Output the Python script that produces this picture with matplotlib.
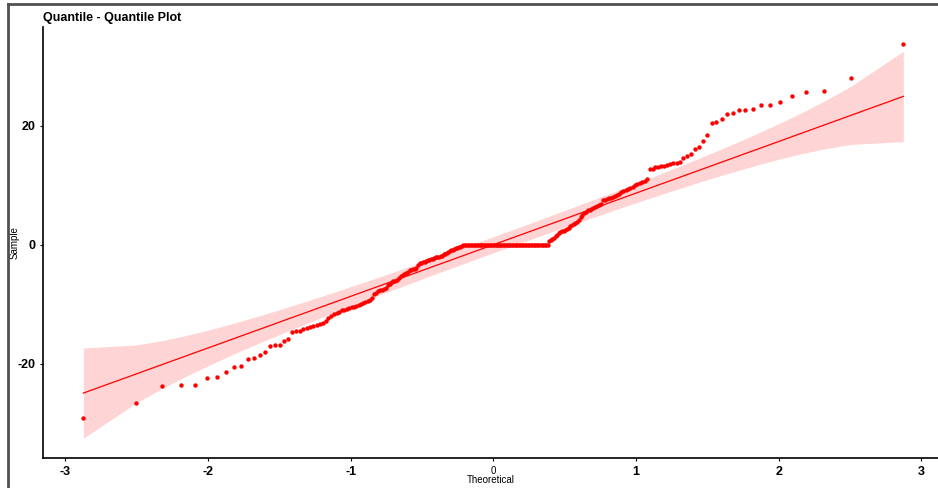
import matplotlib
matplotlib.use("Agg")
import matplotlib.pyplot as plt
from matplotlib.lines import Line2D
import numpy as np
from statistics import NormalDist

plt.rcParams['font.family'] = ['Liberation Sans', 'DejaVu Sans']

# sorted sample values
lower_tail = [-29.1, -26.6, -23.7, -23.6, -23.5, -22.3, -22.2, -21.4, -20.5, -20.3,
              -19.1, -19.0, -18.5, -18.0, -17.0, -16.8, -16.8, -16.2, -15.8, -14.7]
lower_body = [-14.5, -14.4, -14.2, -14.0, -13.8, -13.6, -13.5, -13.3, -13.2, -12.8,
              -12.2, -11.9, -11.6, -11.4, -11.2, -11.0, -10.9, -10.8, -10.6, -10.5,
              -10.4, -10.3, -10.1, -9.9, -9.8, -9.6, -9.5, -9.3, -9.0, -8.2,
              -8.0, -7.8, -7.6, -7.5, -7.4, -7.3, -6.7, -6.5, -6.3, -6.1,
              -6.0, -5.9, -5.6, -5.3, -5.0, -4.9, -4.7, -4.5, -4.3, -4.2,
              -4.1, -4.0, -3.9, -3.4, -3.1, -3.0, -2.9, -2.8, -2.7, -2.6,
              -2.5, -2.4, -2.3, -2.2, -2.1, -2.0, -2.0, -1.9, -1.8, -1.6,
              -1.5, -1.4, -1.2, -1.0, -0.9, -0.8, -0.7, -0.6, -0.5, -0.4,
              -0.3, -0.2, -0.1]
zero_run = [0.0] * 57
upper_body = [0.6, 0.9, 1.0, 1.2, 1.5, 1.7, 2.0, 2.2, 2.3, 2.4,
              2.5, 2.7, 2.9, 3.1, 3.3, 3.5, 3.7, 3.9, 4.2, 4.6,
              5.0, 5.3, 5.6, 5.8, 5.9, 6.0, 6.2, 6.4, 6.5, 6.7,
              6.8, 7.5, 7.6, 7.7, 7.8, 7.9, 8.0, 8.2, 8.4, 8.6,
              8.8, 9.0, 9.2, 9.4, 9.6, 9.8, 10.0, 10.2, 10.4, 10.6,
              10.8, 11.0]
upper_tail = [12.7, 12.8, 13.0, 13.1, 13.2, 13.3, 13.4, 13.6, 13.7, 13.8,
              13.9, 14.6, 15.0, 15.3, 16.1, 16.4, 17.5, 18.4, 20.5, 20.6,
              21.2, 22.0, 22.1, 22.6, 22.7, 22.9, 23.5, 23.5, 24.0, 25.0,
              25.6, 25.9, 28.1, 33.8]

x_ticks = [-3, -2, -1, 0, 1, 2, 3]
y_ticks = [-20, 0, 20]

sample = np.array(lower_tail + lower_body + zero_run + upper_body + upper_tail)
n = len(sample)

# theoretical quantiles (ppoints, a = 0.5)
P = (np.arange(1, n + 1) - 0.5) / n
nd = NormalDist()
z = np.array([nd.inv_cdf(p) for p in P])

# qq line through the quartiles
q1, q3 = np.quantile(sample, [0.25, 0.75])
slope = (q3 - q1) / (nd.inv_cdf(0.75) - nd.inv_cdf(0.25))
intercept = q1 - slope * nd.inv_cdf(0.25)
fit = intercept + slope * z

# 95% band
dens = np.exp(-z ** 2 / 2) / np.sqrt(2 * np.pi)
se = slope / dens * np.sqrt(P * (1 - P) / n)
zz = nd.inv_cdf(0.975)

fig = plt.figure(figsize=(9.38, 4.88), dpi=100)
ax = fig.add_axes([43 / 938, 30 / 488, 1 - 43 / 938, (458 - 27) / 488])

ax.fill_between(z, fit - zz * se, fit + zz * se, color='red', alpha=0.17, linewidth=0)
ax.plot(z, fit, color='red', linewidth=0.9)
ax.scatter(z, sample, s=10, color='red', linewidths=0, zorder=3)

ax.set_xlim(-3.156, 3.116)
ax.set_ylim(-35.8, 36.6)
ax.set_xticks(x_ticks)
ax.set_yticks(y_ticks)
ax.set_xticklabels([str(t) for t in x_ticks])
ax.set_yticklabels([str(t) for t in y_ticks])

for s in ['top', 'right']:
    ax.spines[s].set_visible(False)
for s in ['left', 'bottom']:
    ax.spines[s].set_linewidth(1.2)
ax.tick_params(length=2.5, width=0.8, pad=3)
for lab in ax.get_xticklabels() + ax.get_yticklabels():
    lab.set_fontsize(9)
    lab.set_fontweight('bold')
# the 0 on the x axis is drawn small and plain in the original
for lab in ax.get_xticklabels():
    if lab.get_text() == '0':
        lab.set_fontsize(7)
        lab.set_fontweight('normal')

ax.set_xlabel('Theoretical', fontsize=7, labelpad=-2)
ax.set_ylabel('Sample', fontsize=7)
ax.yaxis.set_label_coords(-0.026, 0.5)
ax.set_title('Quantile - Quantile Plot', fontsize=9, fontweight='bold', loc='left', pad=4)

# outer frame (top and left only)
fig.add_artist(Line2D([8 / 938, 1], [1 - 4 / 488, 1 - 4 / 488], color='#505050', linewidth=2))
fig.add_artist(Line2D([8 / 938, 8 / 938], [0, 1 - 4 / 488], color='#505050', linewidth=2))

fig.savefig('out.png', dpi=100)
